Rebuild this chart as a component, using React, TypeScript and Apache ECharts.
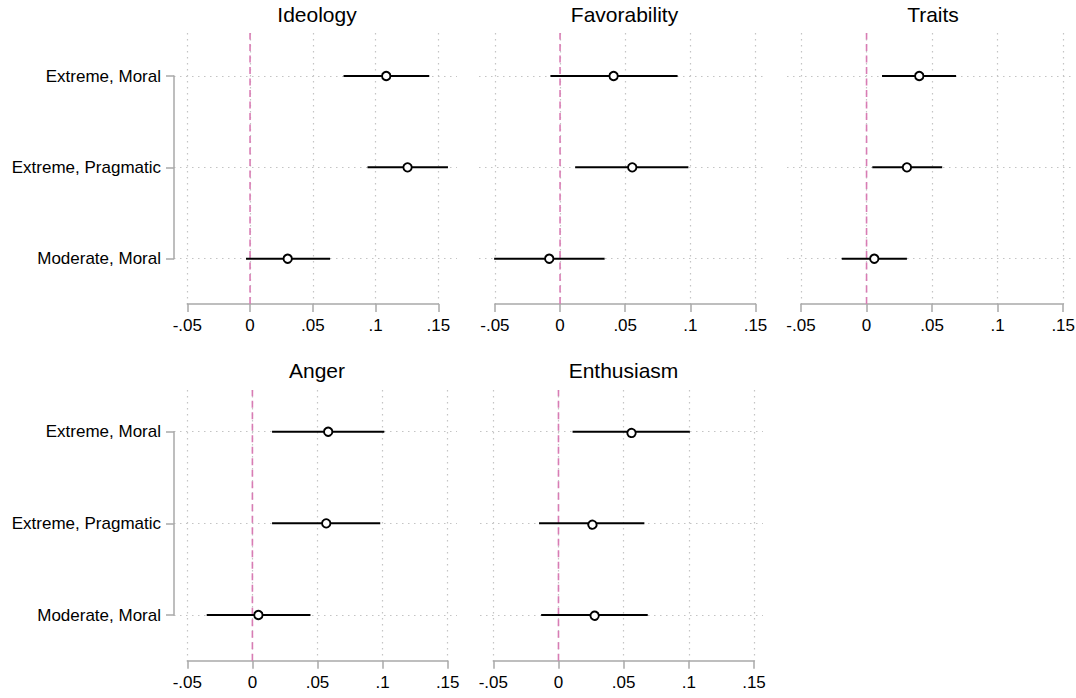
import React, { useEffect, useRef } from "react";
import * as echarts from "echarts";

// Categories from bottom (value 1) to top (value 3)
const categories = ["Moderate, Moral", "Extreme, Pragmatic", "Extreme, Moral"];
const xTicks = [-0.05, 0, 0.05, 0.1, 0.15];
const panelTitles = ["Ideology", "Favorability", "Traits", "Anger", "Enthusiasm"];

// Values listed top to bottom: Extreme Moral, Extreme Pragmatic, Moderate Moral
const ideologyEst = [0.1085, 0.1255, 0.030];
const ideologyLo = [0.0745, 0.0936, -0.0032];
const ideologyHi = [0.1428, 0.1577, 0.0638];

const favorabilityEst = [0.0411, 0.0554, -0.0083];
const favorabilityLo = [-0.0074, 0.0116, -0.0506];
const favorabilityHi = [0.0902, 0.0985, 0.0342];

const traitsEst = [0.0402, 0.0308, 0.0059];
const traitsLo = [0.0118, 0.0044, -0.0189];
const traitsHi = [0.0683, 0.0577, 0.0308];

const angerEst = [0.0582, 0.0567, 0.0046];
const angerLo = [0.0151, 0.0151, -0.0351];
const angerHi = [0.1013, 0.0982, 0.0446];

const enthusiasmEst = [0.0559, 0.0259, 0.0277];
const enthusiasmLo = [0.0108, -0.0149, -0.0133];
const enthusiasmHi = [0.1008, 0.0659, 0.0685];

const panelData = [
  [ideologyLo, ideologyEst, ideologyHi],
  [favorabilityLo, favorabilityEst, favorabilityHi],
  [traitsLo, traitsEst, traitsHi],
  [angerLo, angerEst, angerHi],
  [enthusiasmLo, enthusiasmEst, enthusiasmHi],
];

// Layout (pixels)
const rows = [
  { plotTop: 33, axisY: 304, y3: 76, y1: 258.7, titleY: 14 },
  { plotTop: 390, axisY: 660.7, y3: 431.7, y1: 615, titleY: 370.3 },
];
const layout = [
  { row: 0, plotLeft: 174, plotRight: 457, xMinPx: 187.3, xMaxPx: 438.3, titleX: 317, showY: true },
  { row: 0, plotLeft: 479, plotRight: 765, xMinPx: 494.9, xMaxPx: 755.5, titleX: 624.5, showY: false },
  { row: 0, plotLeft: 787, plotRight: 1075, xMinPx: 801, xMaxPx: 1063.2, titleX: 933, showY: false },
  { row: 1, plotLeft: 174, plotRight: 457, xMinPx: 187.3, xMaxPx: 447.7, titleX: 317, showY: true },
  { row: 1, plotLeft: 480, plotRight: 763, xMinPx: 493.3, xMaxPx: 754, titleX: 623.5, showY: false },
];

const FONT = "'Liberation Sans', Arial, Helvetica, sans-serif";
const TEXT_COLOR = "#000";
const AXIS_COLOR = "#a9a9a9";
const GRID_COLOR = "#c4c4c4";
const PINK = "#d87cb4";
const DOT: number[] = [1.5, 4.5];

function fmtTick(v: number): string {
  const r = Math.round(v * 100) / 100;
  if (r === 0) return "0";
  const s = String(Math.abs(r)).replace(/^0/, "");
  return (r < 0 ? "-" : "") + s;
}

function buildOption() {
  const grid: any[] = [];
  const xAxis: any[] = [];
  const yAxis: any[] = [];
  const series: any[] = [];
  const graphic: any[] = [];

  layout.forEach((p, i) => {
    const r = rows[p.row];
    const unit = (r.y1 - r.y3) / 2;
    // plot grid (categories / horizontal gridlines / y axis)
    grid.push({
      left: p.plotLeft,
      top: r.y3,
      width: p.plotRight - p.plotLeft,
      height: r.y1 - r.y3,
      containLabel: false,
      outerBoundsMode: "none",
    });
    // x-axis grid
    grid.push({
      left: p.xMinPx,
      top: r.plotTop,
      width: p.xMaxPx - p.xMinPx,
      height: r.axisY - r.plotTop,
      containLabel: false,
      outerBoundsMode: "none",
    });
    const gA = 2 * i;
    const gB = 2 * i + 1;
    xAxis.push({ type: "value", gridIndex: gA, show: false, min: 0, max: 1 });
    xAxis.push({
      type: "value",
      gridIndex: gB,
      min: xTicks[0],
      max: xTicks[xTicks.length - 1],
      interval: 0.05,
      axisLine: { show: true, lineStyle: { color: AXIS_COLOR, width: 1.5 } },
      axisTick: { show: true, length: 8, lineStyle: { color: AXIS_COLOR, width: 1.5 } },
      axisLabel: {
        show: true,
        margin: 13,
        color: TEXT_COLOR,
        fontSize: 17,
        fontFamily: FONT,
        formatter: (v: number) => fmtTick(v),
      },
      splitLine: { show: true, lineStyle: { color: GRID_COLOR, width: 1.2, type: DOT } },
    });
    yAxis.push({
      type: "value",
      gridIndex: gA,
      min: 1,
      max: 3,
      interval: 1,
      axisLine: { show: p.showY, lineStyle: { color: AXIS_COLOR, width: 1.5 } },
      axisTick: { show: p.showY, length: 8, lineStyle: { color: AXIS_COLOR, width: 1.5 } },
      axisLabel: {
        show: p.showY,
        margin: 13,
        color: TEXT_COLOR,
        fontSize: 17,
        fontFamily: FONT,
        formatter: (v: number) => categories[Math.round(v) - 1] || "",
      },
      splitLine: { show: true, lineStyle: { color: GRID_COLOR, width: 1.2, type: DOT } },
    });
    const yMin = 1 - (r.axisY - r.y1) / unit;
    const yMax = 3 + (r.y3 - r.plotTop) / unit;
    yAxis.push({ type: "value", gridIndex: gB, show: false, min: yMin, max: yMax });

    const [lo, est, hi] = panelData[i];
    const data = est.map((e, k) => [3 - k, lo[k], e, hi[k]]);

    series.push({
      type: "line",
      xAxisIndex: gB,
      yAxisIndex: gB,
      data: [
        [0, yMin],
        [0, yMax],
      ],
      symbol: "none",
      silent: true,
      z: 1,
      lineStyle: { color: PINK, width: 1.6, type: [7, 4.5] },
    });
    series.push({
      type: "custom",
      xAxisIndex: gB,
      yAxisIndex: gB,
      z: 5,
      clip: false,
      data,
      encode: { x: [1, 2, 3], y: 0 },
      renderItem: (params: any, api: any) => {
        const y = api.value(0);
        const p1 = api.coord([api.value(1), y]);
        const p2 = api.coord([api.value(3), y]);
        const pc = api.coord([api.value(2), y]);
        return {
          type: "group",
          children: [
            {
              type: "line",
              shape: { x1: p1[0], y1: p1[1], x2: p2[0], y2: p2[1] },
              style: { stroke: "#000", lineWidth: 2 },
            },
            {
              type: "circle",
              shape: { cx: pc[0], cy: pc[1], r: 4.2 },
              style: { fill: "#fff", stroke: "#000", lineWidth: 1.9 },
            },
          ],
        };
      },
    });

    graphic.push({
      type: "text",
      x: p.titleX,
      y: r.titleY,
      style: {
        text: panelTitles[i],
        fill: TEXT_COLOR,
        font: `21px ${FONT}`,
        align: "center",
        verticalAlign: "middle",
      },
    });
  });

  return {
    animation: false,
    backgroundColor: "#fff",
    grid,
    xAxis,
    yAxis,
    series,
    graphic,
  };
}

export default function App() {
  const ref = useRef<HTMLDivElement>(null);
  useEffect(() => {
    if (!ref.current) return;
    const chart = echarts.init(ref.current, undefined, { renderer: "svg" });
    chart.setOption(buildOption() as any);
    return () => chart.dispose();
  }, []);
  return (
    <div
      ref={ref}
      style={{ position: "fixed", left: 0, top: 0, width: 1076, height: 698, background: "#fff" }}
    />
  );
}
